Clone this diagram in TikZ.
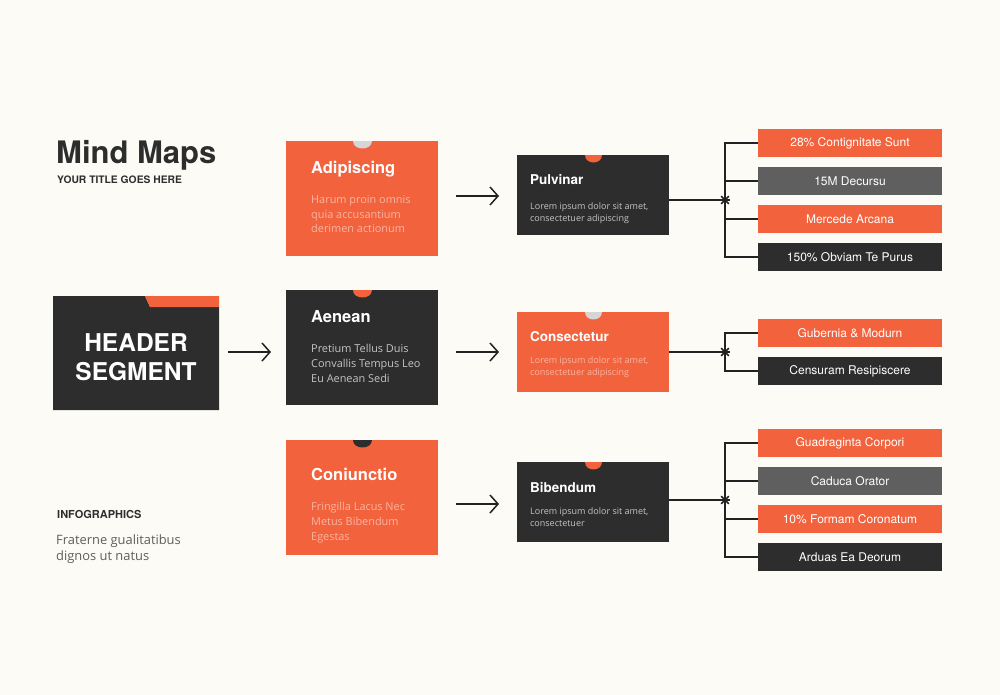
\documentclass[tikz,border=0pt]{standalone}
\usepackage{fontspec}
\setmainfont{TeX Gyre Heros}
\newfontfamily\bodyfont{Open Sans}
\usetikzlibrary{arrows.meta,shapes.geometric}
\definecolor{bg}{HTML}{FCFBF5}
\definecolor{org}{HTML}{F1623D}
\definecolor{drk}{HTML}{2D2D2D}
\definecolor{gry}{HTML}{5F5F5F}
\definecolor{ntc}{HTML}{D6D6D6}
\definecolor{peach}{HTML}{F9B5A2}
\definecolor{lgr}{HTML}{C4C4C4}
\definecolor{ink}{HTML}{222222}
\newcommand{\notch}[3]{% node, colour, half width
  \fill[#2] ([xshift=-#3pt]#1.north) .. controls ([xshift=-#3pt,yshift=-10.5pt]#1.north) and ([xshift=#3pt,yshift=-10.5pt]#1.north) .. ([xshift=#3pt]#1.north) -- cycle;}
\newcommand{\junction}[2]{% coordinate, node name
  \node[circle, fill=ink, inner sep=0, minimum size=4pt] (#2) at (#1) {};
  \draw[ink, line width=1.6pt] ([shift={(-5,0)}]#1) -- ([shift={(5,0)}]#1);
  \draw[ink, line width=1.6pt] ([shift={(0,-5)}]#1) -- ([shift={(0,5)}]#1);
  \draw[ink, line width=1.6pt] ([shift={(-3.8,-3.8)}]#1) -- ([shift={(3.8,3.8)}]#1);
  \draw[ink, line width=1.6pt] ([shift={(-3.8,3.8)}]#1) -- ([shift={(3.8,-3.8)}]#1);}
\begin{document}
\begin{tikzpicture}[x=1pt,y=-1pt,
  box/.style={inner sep=0, minimum width=152, minimum height=115},
  sbox/.style={inner sep=0, minimum width=152, minimum height=80},
  item/.style={inner sep=0, minimum width=184, minimum height=28, text=white, font=\fontsize{12}{14}\selectfont},
  ttl/.style={anchor=base west, inner sep=0, text=white, font=\bfseries\fontsize{16.5}{18}\selectfont},
  sttl/.style={anchor=base west, inner sep=0, text=white, font=\bfseries\fontsize{13.5}{15}\selectfont},
  body/.style={anchor=north west, inner sep=0, align=left, font=\bodyfont\fontsize{10.9}{14.8}\selectfont},
  sbody/.style={anchor=north west, inner sep=0, align=left, font=\bodyfont\fontsize{9}{12}\selectfont},
  conn/.style={draw=ink, line width=1.4pt},
  arr/.style={draw=ink, line width=1.5pt, -{Straight Barb[length=8pt,width=18pt]}}]
\useasboundingbox (0,0) rectangle (1000,695);
\fill[bg] (0,0) rectangle (1000,695);

% title
\node[anchor=base west, inner sep=0, text=drk, font=\bfseries\fontsize{31}{34}\selectfont] (title) at (56,164) {Mind Maps};
\node[anchor=base west, inner sep=0, text=drk, font=\bfseries\fontsize{10.3}{12}\selectfont] (subtitle) at (57,183) {YOUR TITLE GOES HERE};

% header segment
\fill[drk] (53,296) -- (145,296) -- (150,307) -- (219,307) -- (219,410) -- (53,410) -- cycle;
\fill[org] (145,296) -- (219,296) -- (219,307) -- (150,307) -- cycle;
\node[inner sep=0, align=center, text=white, font=\bfseries\fontsize{24.5}{28.5}\selectfont] (hdr) at (136,357) {HEADER\\SEGMENT};

% left bottom text
\node[anchor=base west, inner sep=0, text=drk, font=\bfseries\fontsize{11}{13}\selectfont] (info) at (57,518) {INFOGRAPHICS};
\node[anchor=north west, inner sep=0, align=left, text=gry, font=\bodyfont\fontsize{12.9}{16}\selectfont] (frat) at (56,534) {Fraterne gualitatibus\\dignos ut natus};

% column 2
\node[box, fill=org] (adip) at (362,198.5) {};
\node[box, fill=drk] (aen) at (362,347.5) {};
\node[box, fill=org] (coni) at (362,497.5) {};
\notch{adip}{ntc}{9.5}
\notch{aen}{org}{9.5}
\notch{coni}{drk}{9.5}
\node[ttl] (adipT) at (311,174) {Adipiscing};
\node[body, text=peach] (adipB) at (311,195) {Harum proin omnis\\quia accusantium\\derimen actionum};
\node[ttl] (aenT) at (311,322) {Aenean};
\node[body, text=lgr] (aenB) at (311,344) {Pretium Tellus Duis\\Convallis Tempus Leo\\Eu Aenean Sedi};
\node[ttl] (coniT) at (311,480) {Coniunctio};
\node[body, text=peach] (coniB) at (311,502) {Fringilla Lacus Nec\\Metus Bibendum\\Egestas};

% column 3
\node[sbox, fill=drk] (pulv) at (593,195) {};
\node[sbox, fill=org] (cons) at (593,352) {};
\node[sbox, fill=drk] (bib) at (593,502) {};
\notch{pulv}{org}{8.5}
\notch{cons}{ntc}{8.5}
\notch{bib}{org}{8.5}
\node[sttl] (pulvT) at (530,185) {Pulvinar};
\node[sbody, text=lgr] (pulvB) at (530,202) {Lorem ipsum dolor sit amet,\\consectetuer adipiscing};
\node[sttl] (consT) at (530,341) {Consectetur};
\node[sbody, text=peach] (consB) at (530,356) {Lorem ipsum dolor sit amet,\\consectetuer adipiscing};
\node[sttl] (bibT) at (530,492) {Bibendum};
\node[sbody, text=lgr] (bibB) at (530,507) {Lorem ipsum dolor sit amet,\\consectetuer};

% arrows
\coordinate (s1) at (228,352); \coordinate (e1) at (271,352);
\coordinate (s2) at (456,196); \coordinate (e2) at (499,196);
\coordinate (s3) at (456,352); \coordinate (e3) at (499,352);
\coordinate (s4) at (456,504); \coordinate (e4) at (499,504);
\draw[arr] (s1) -- (e1);
\draw[arr] (s2) -- (e2);
\draw[arr] (s3) -- (e3);
\draw[arr] (s4) -- (e4);

% items
\node[item, fill=org] (i11) at (850,143) {28\% Contignitate Sunt};
\node[item, fill=gry] (i12) at (850,181) {15M Decursu};
\node[item, fill=org] (i13) at (850,219) {Mercede Arcana};
\node[item, fill=drk] (i14) at (850,257) {150\% Obviam Te Purus};
\node[item, fill=org] (i21) at (850,333) {Gubernia \& Modurn};
\node[item, fill=drk] (i22) at (850,371) {Censuram Resipiscere};
\node[item, fill=org] (i31) at (850,443) {Guadraginta Corpori};
\node[item, fill=gry] (i32) at (850,481) {Caduca Orator};
\node[item, fill=org] (i33) at (850,519) {10\% Formam Coronatum};
\node[item, fill=drk] (i34) at (850,557) {Arduas Ea Deorum};

% connectors
\coordinate (j1) at (725,200);
\coordinate (j2) at (725,352);
\coordinate (j3) at (725,500);
\draw[conn] (pulv.east |- j1) -- (j1);
\draw[conn] (i11.west) -| (j1) |- (i14.west);
\draw[conn] (j1) |- (i12.west);
\draw[conn] (j1) |- (i13.west);
\draw[conn] (cons.east |- j2) -- (j2);
\draw[conn] (i21.west) -| (j2) |- (i22.west);
\draw[conn] (bib.east |- j3) -- (j3);
\draw[conn] (i31.west) -| (j3) |- (i34.west);
\draw[conn] (j3) |- (i32.west);
\draw[conn] (j3) |- (i33.west);
\junction{j1}{k1}
\junction{j2}{k2}
\junction{j3}{k3}
\end{tikzpicture}
\end{document}
